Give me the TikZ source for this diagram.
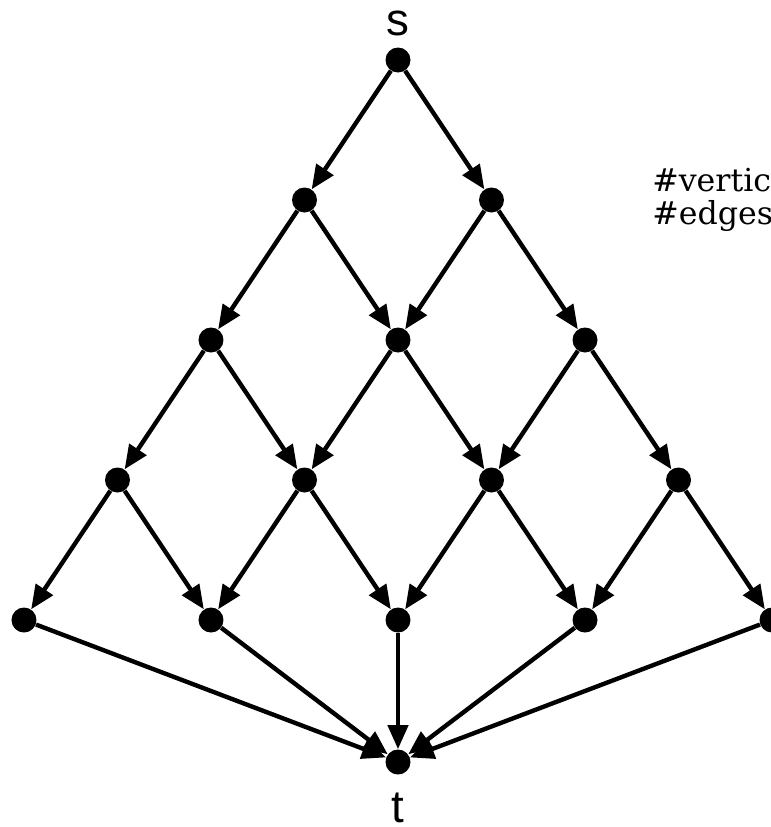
\documentclass[tikz,border=0pt]{standalone}
\usepackage{fontspec}
\setmainfont{DejaVu Serif}
\newfontfamily\termfont{Liberation Sans}
\usetikzlibrary{arrows.meta,positioning}

\begin{document}
\begin{tikzpicture}[
    >={Triangle[length=4.8mm, width=4mm]},
    dot/.style={circle, fill=black, inner sep=0pt, minimum size=5mm},
    term/.style={font=\termfont\fontsize{26}{30}\selectfont, inner sep=0pt},
    note/.style={font=\fontsize{18}{22}\selectfont, anchor=base west,
                 inner sep=0pt},
    e/.style={->, line width=2.5pt},
  ]
    \useasboundingbox (-7.96,1.2) rectangle (7.46,-15.34);
    % --- source ----------------------------------------------------------
    \node[dot] (s)  at (0,0)        {};
    \node[term, above=0.22cm of s]  {s};
    % --- level 1 ---------------------------------------------------------
    \node[dot] (a1) at (-1.87,-2.8) {};
    \node[dot] (a2) at ( 1.87,-2.8) {};
    % --- level 2 ---------------------------------------------------------
    \node[dot] (b1) at (-3.74,-5.6) {};
    \node[dot] (b2) at ( 0,   -5.6) {};
    \node[dot] (b3) at ( 3.74,-5.6) {};
    % --- level 3 ---------------------------------------------------------
    \node[dot] (c1) at (-5.61,-8.4) {};
    \node[dot] (c2) at (-1.87,-8.4) {};
    \node[dot] (c3) at ( 1.87,-8.4) {};
    \node[dot] (c4) at ( 5.61,-8.4) {};
    % --- level 4 ---------------------------------------------------------
    \node[dot] (d1) at (-7.48,-11.2) {};
    \node[dot] (d2) at (-3.74,-11.2) {};
    \node[dot] (d3) at ( 0,   -11.2) {};
    \node[dot] (d4) at ( 3.74,-11.2) {};
    \node[dot] (d5) at ( 7.48,-11.2) {};
    % --- sink ------------------------------------------------------------
    \node[dot] (t)  at (0,-14.04)   {};
    \node[term, below=0.36cm of t]  {t};
    % --- counts ----------------------------------------------------------
    \node[note] (nv) at (5.08,-2.62) {\#vertices};
    \node[note] (ne) at (5.08,-3.28) {\#edges};
    % --- edges -----------------------------------------------------------
    \draw[e] (s)  -- (a1);
    \draw[e] (s)  -- (a2);
    \draw[e] (a1) -- (b1);
    \draw[e] (a1) -- (b2);
    \draw[e] (a2) -- (b2);
    \draw[e] (a2) -- (b3);
    \draw[e] (b1) -- (c1);
    \draw[e] (b1) -- (c2);
    \draw[e] (b2) -- (c2);
    \draw[e] (b2) -- (c3);
    \draw[e] (b3) -- (c3);
    \draw[e] (b3) -- (c4);
    \draw[e] (c1) -- (d1);
    \draw[e] (c1) -- (d2);
    \draw[e] (c2) -- (d2);
    \draw[e] (c2) -- (d3);
    \draw[e] (c3) -- (d3);
    \draw[e] (c3) -- (d4);
    \draw[e] (c4) -- (d4);
    \draw[e] (c4) -- (d5);
    \draw[e] (d1) -- (t);
    \draw[e] (d2) -- (t);
    \draw[e] (d3) -- (t);
    \draw[e] (d4) -- (t);
    \draw[e] (d5) -- (t);
  \end{tikzpicture}
\end{document}
